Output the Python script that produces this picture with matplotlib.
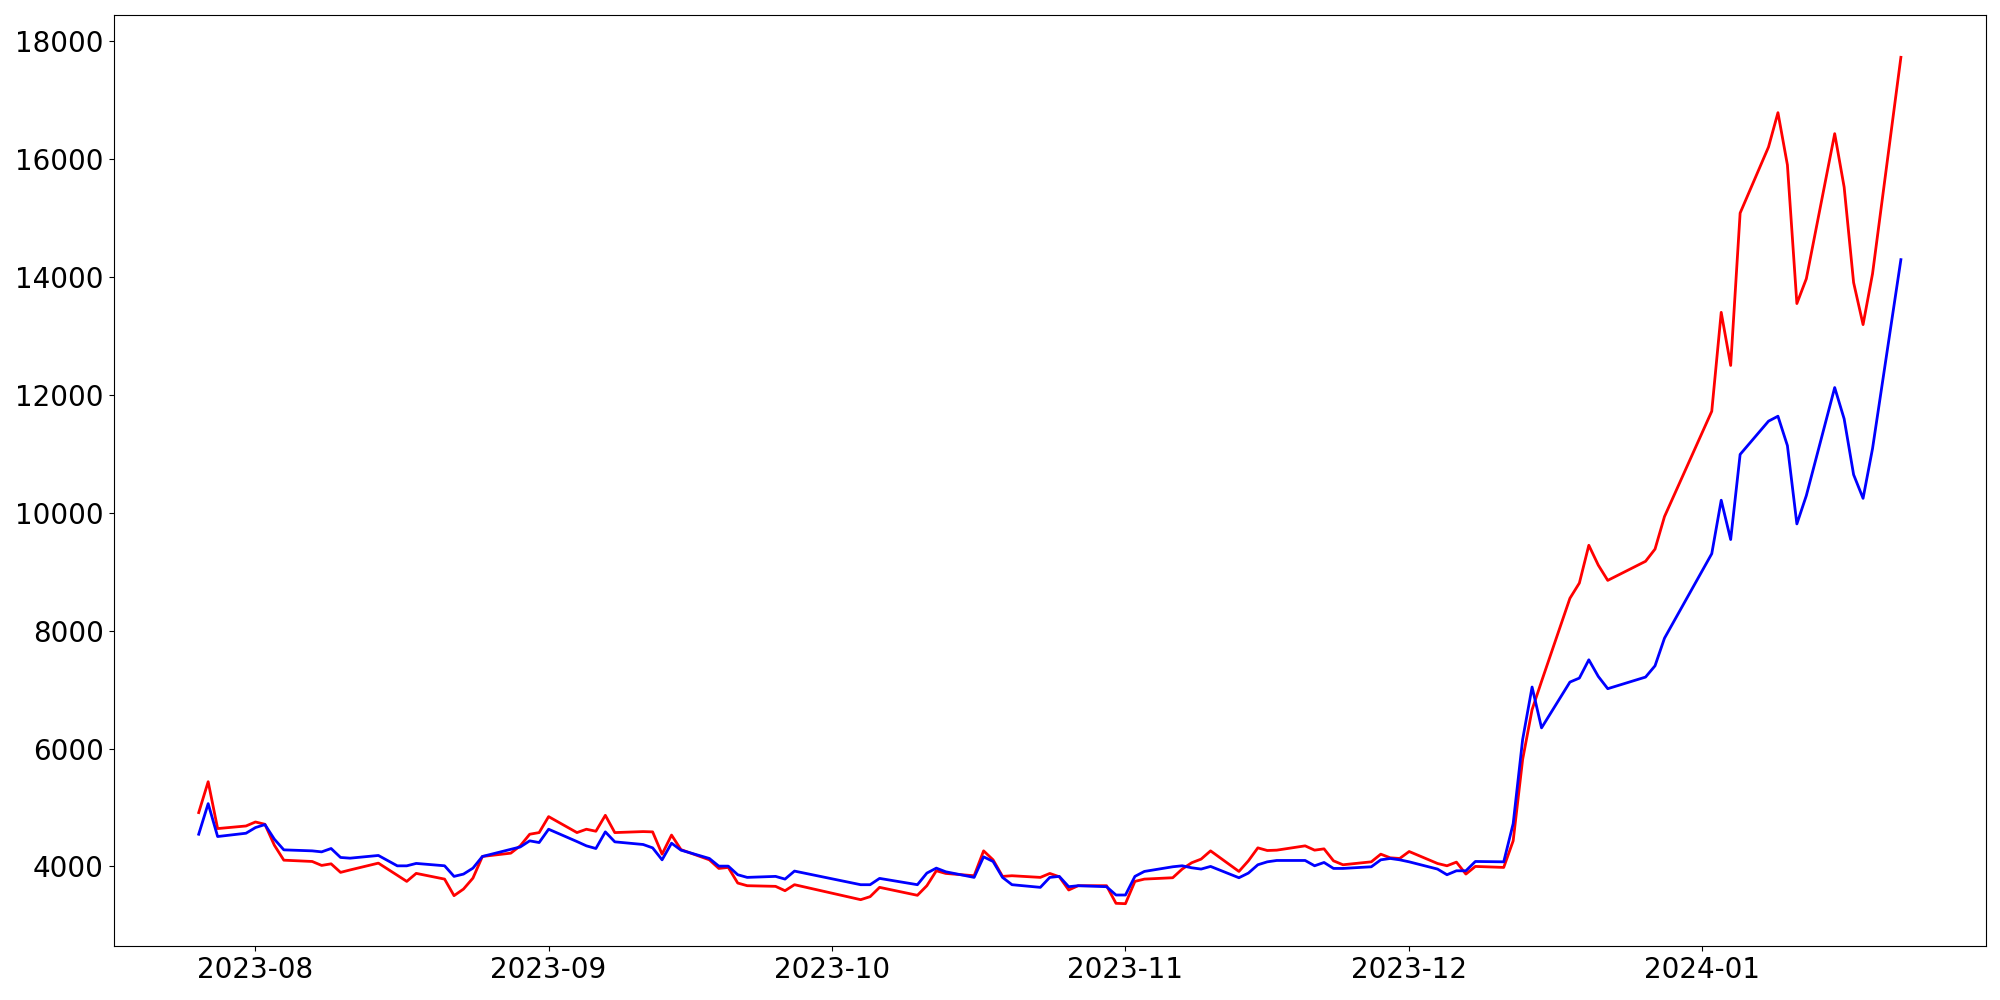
import matplotlib
matplotlib.use("Agg")
import matplotlib.pyplot as plt
import matplotlib.dates as mdates
import pandas as pd

dates = [
    "2023-07-26", "2023-07-27", "2023-07-28", "2023-07-31",
    "2023-08-01", "2023-08-02", "2023-08-03", "2023-08-04", "2023-08-07", "2023-08-08",
    "2023-08-09", "2023-08-10", "2023-08-11", "2023-08-14", "2023-08-16", "2023-08-17",
    "2023-08-18", "2023-08-21", "2023-08-22", "2023-08-23", "2023-08-24", "2023-08-25",
    "2023-08-28", "2023-08-29", "2023-08-30", "2023-08-31",
    "2023-09-01", "2023-09-04", "2023-09-05", "2023-09-06", "2023-09-07", "2023-09-08",
    "2023-09-11", "2023-09-12", "2023-09-13", "2023-09-14", "2023-09-15", "2023-09-18",
    "2023-09-19", "2023-09-20", "2023-09-21", "2023-09-22", "2023-09-25", "2023-09-26",
    "2023-09-27",
    "2023-10-04", "2023-10-05", "2023-10-06", "2023-10-10", "2023-10-11", "2023-10-12",
    "2023-10-13", "2023-10-16", "2023-10-17", "2023-10-18", "2023-10-19", "2023-10-20",
    "2023-10-23", "2023-10-24", "2023-10-25", "2023-10-26", "2023-10-27", "2023-10-30",
    "2023-10-31",
    "2023-11-01", "2023-11-02", "2023-11-03", "2023-11-06", "2023-11-07", "2023-11-08",
    "2023-11-09", "2023-11-10", "2023-11-13", "2023-11-14", "2023-11-15", "2023-11-16",
    "2023-11-17", "2023-11-20", "2023-11-21", "2023-11-22", "2023-11-23", "2023-11-24",
    "2023-11-27", "2023-11-28", "2023-11-29", "2023-11-30",
    "2023-12-01", "2023-12-04", "2023-12-05", "2023-12-06", "2023-12-07", "2023-12-08",
    "2023-12-11", "2023-12-12", "2023-12-13", "2023-12-14", "2023-12-15", "2023-12-18",
    "2023-12-19", "2023-12-20", "2023-12-21", "2023-12-22", "2023-12-26", "2023-12-27",
    "2023-12-28",
    "2024-01-02", "2024-01-03", "2024-01-04", "2024-01-05", "2024-01-08", "2024-01-09",
    "2024-01-10", "2024-01-11", "2024-01-12", "2024-01-15", "2024-01-16", "2024-01-17",
    "2024-01-18", "2024-01-19", "2024-01-22",
]

red_series = [
    4913, 5437, 4642, 4686,
    4754, 4715, 4360, 4106, 4084, 4017,
    4044, 3899, 3940, 4056, 3850, 3746,
    3882, 3785, 3504, 3616, 3802, 4169,
    4225, 4349, 4546, 4574,
    4845, 4574, 4631, 4597, 4867, 4574,
    4591, 4586, 4208, 4532, 4285, 4112,
    3966, 3983, 3718, 3673, 3662, 3588,
    3690,
    3436, 3487, 3645, 3510, 3673, 3926,
    3881, 3842, 4264, 4112, 3831, 3842,
    3814, 3881, 3825, 3600, 3673, 3673,
    3374,
    3368, 3746, 3785, 3808, 3955, 4062,
    4124, 4264, 3915, 4095, 4315, 4270,
    4276, 4349, 4276, 4298, 4095, 4028,
    4078, 4208, 4146, 4135,
    4253, 4050, 4011, 4073, 3870, 4000,
    3983, 4434, 5814, 6660, 7139, 8548,
    8807, 9448, 9111, 8852, 9176, 9383,
    9934,
    11721, 13399, 12498, 15083, 16203, 16786,
    15899, 13548, 13969, 16430, 15523, 13904,
    13191, 14053, 17725,
]

blue_series = [
    4546, 5065, 4507, 4563,
    4659, 4710, 4462, 4281, 4264, 4247,
    4304, 4152, 4140, 4186, 4010, 4010,
    4051, 4011, 3831, 3870, 3971, 4169,
    4290, 4330, 4434, 4405,
    4631, 4422, 4349, 4304, 4586, 4417,
    4372, 4315, 4112, 4394, 4276, 4135,
    4005, 4005, 3859, 3814, 3831, 3785,
    3921,
    3690, 3690, 3797, 3690, 3887, 3971,
    3909, 3814, 4163, 4084, 3814, 3690,
    3645, 3814, 3831, 3656, 3673, 3656,
    3515,
    3515, 3831, 3915, 3994, 4011, 3977,
    3955, 4000, 3808, 3887, 4028, 4078,
    4101, 4101, 4011, 4067, 3966, 3966,
    3994, 4112, 4135, 4112,
    4078, 3955, 3859, 3926, 3926, 4084,
    4078, 4725, 6152, 7043, 6350, 7127,
    7195, 7505, 7223, 7015, 7212, 7403,
    7871,
    9305, 10212, 9545, 10989, 11553, 11637,
    11138, 9810, 10290, 12123, 11592, 10646,
    10244, 11087, 14293,
]

x = pd.to_datetime(dates)

fig = plt.figure(figsize=(20, 10), dpi=100)
ax = fig.add_axes([0.0568, 0.054, 0.9362, 0.931])
ax.plot(x, red_series, color="red", linewidth=2)
ax.plot(x, blue_series, color="blue", linewidth=2)

ax.xaxis.set_major_locator(mdates.MonthLocator())
ax.xaxis.set_major_formatter(mdates.DateFormatter("%Y-%m"))
ax.tick_params(axis="both", labelsize=20)

fig.savefig("out.png", dpi=100)
